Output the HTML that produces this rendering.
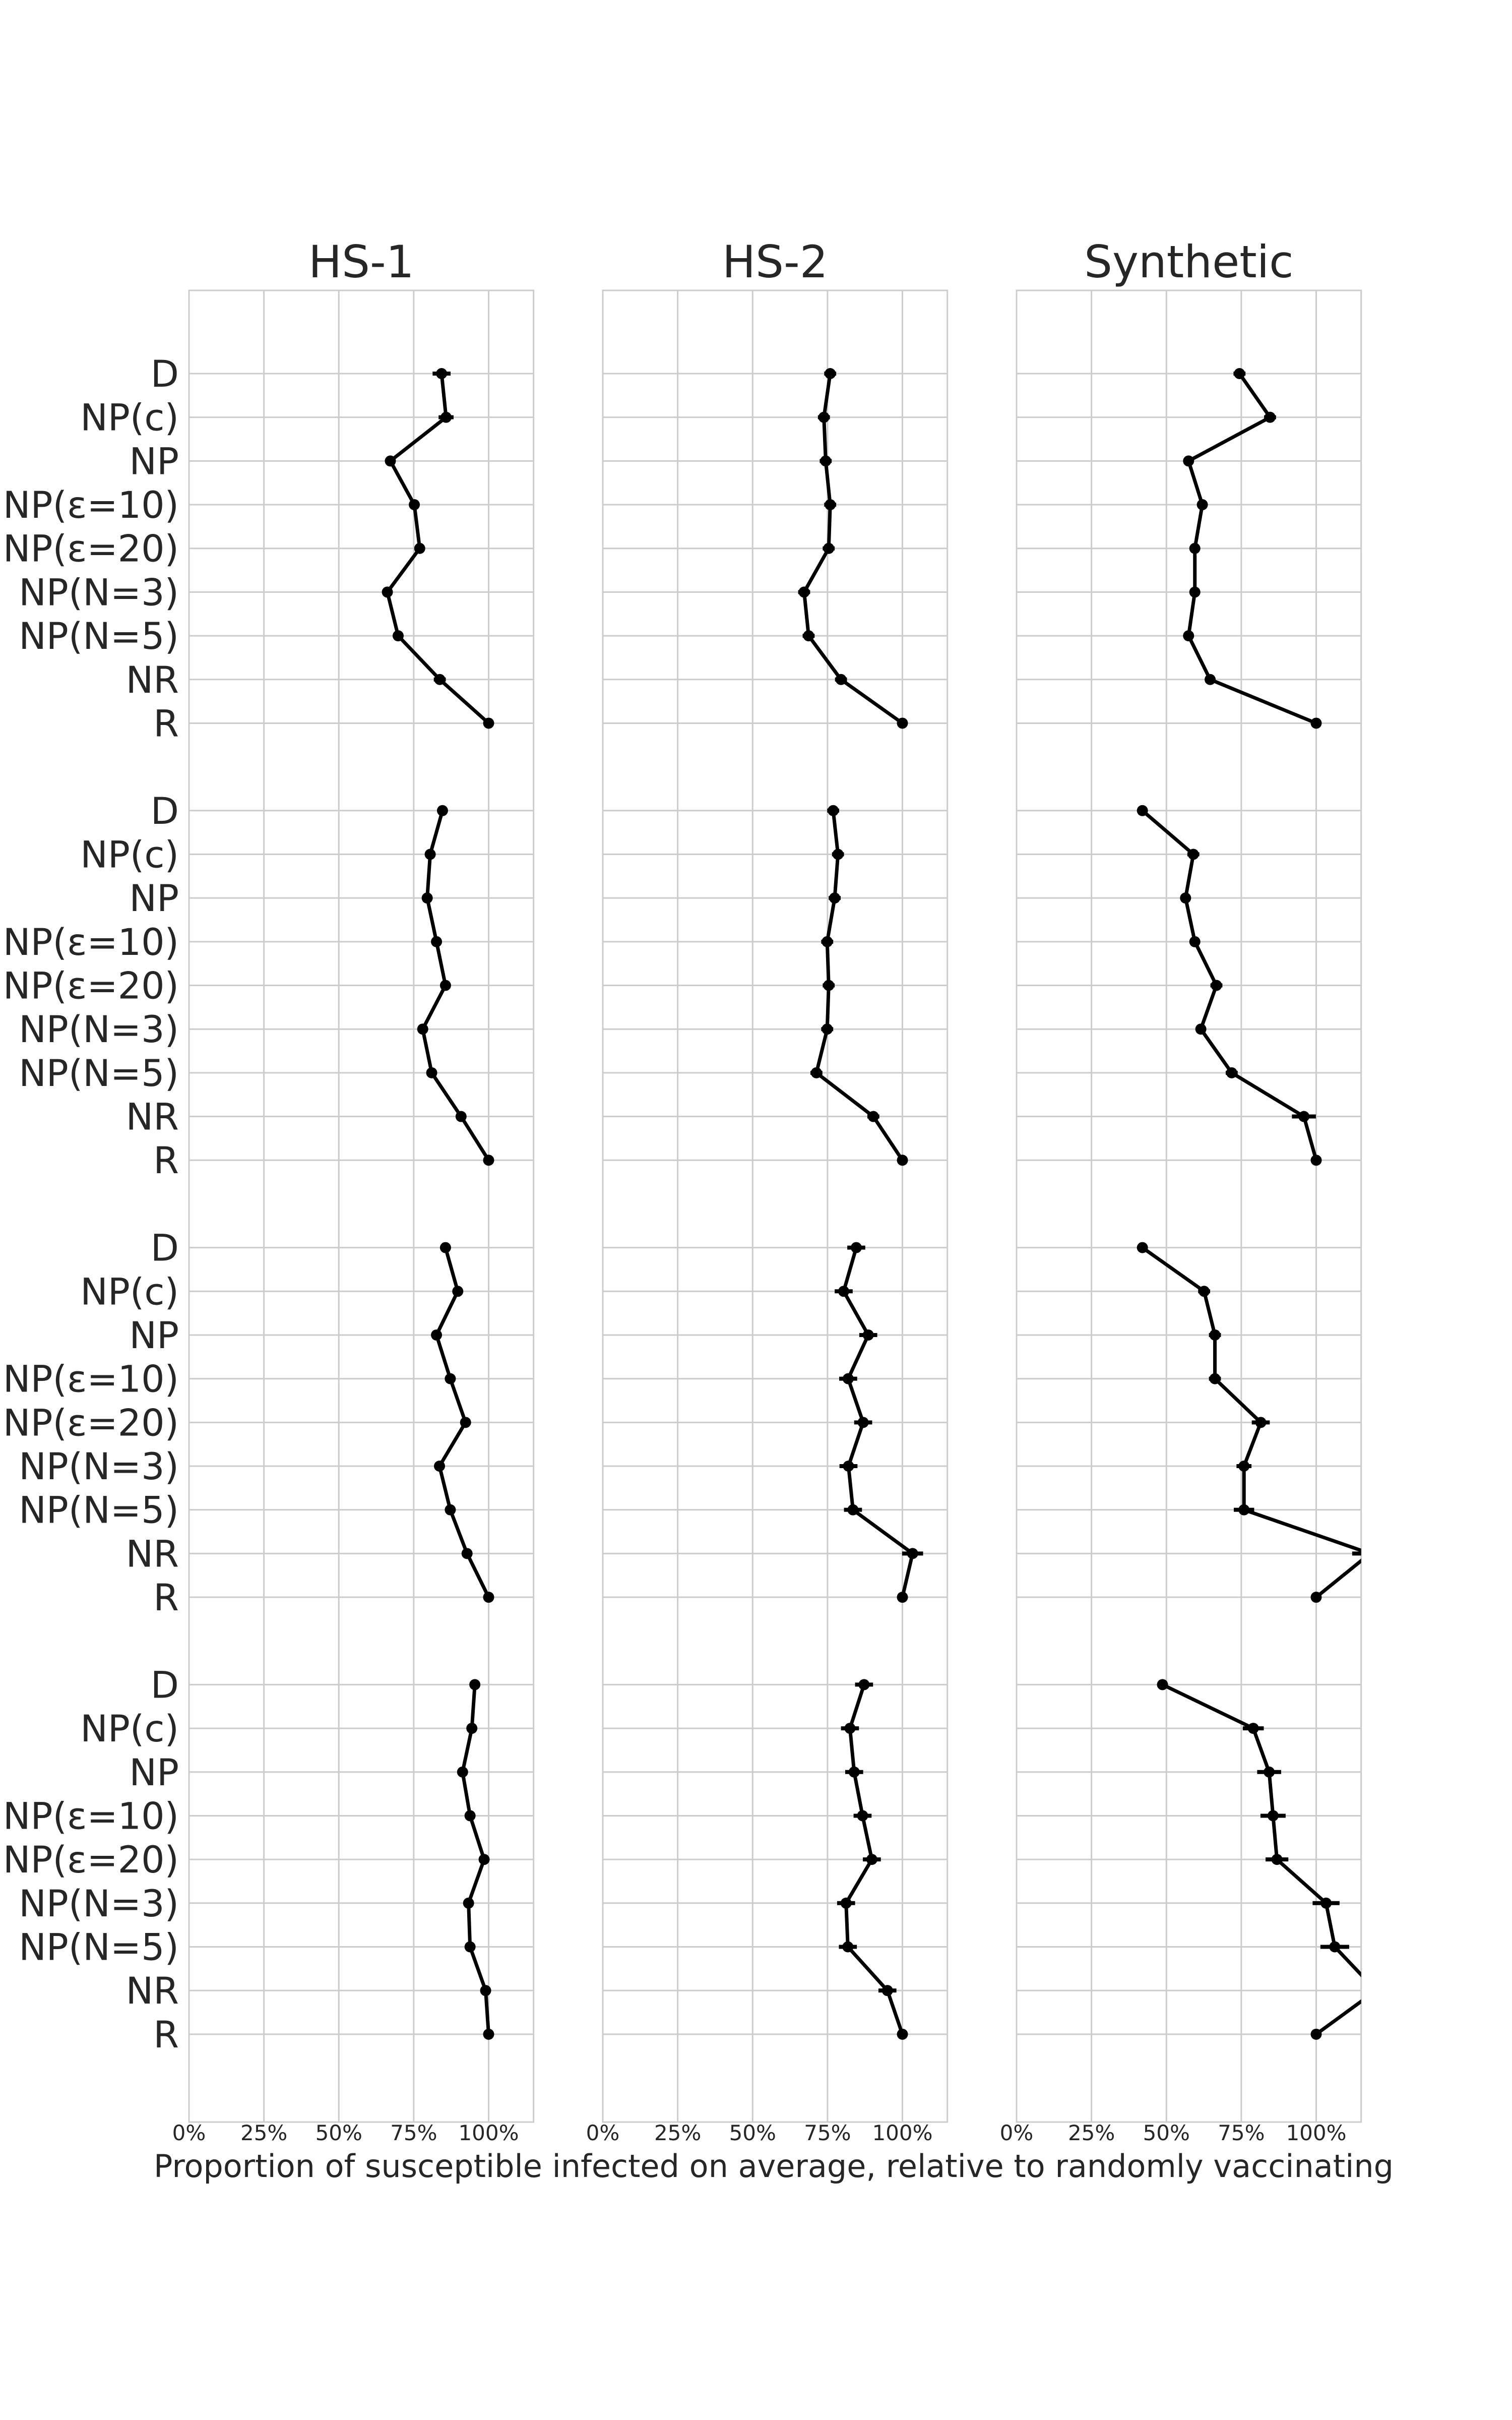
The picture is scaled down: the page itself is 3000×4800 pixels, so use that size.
<!DOCTYPE html>
<html><head><meta charset="utf-8"><style>
html,body{margin:0;padding:0;background:#fff;}
svg{display:block;font-family:"DejaVu Sans","Liberation Sans",sans-serif;}
</style></head>
<body>
<svg id="chart" width="3000" height="4800" viewBox="0 0 3000 4800" xmlns="http://www.w3.org/2000/svg">
<rect width="3000" height="4800" fill="#fff"/>
<text x="1535" y="4318" font-size="62" fill="#262626" text-anchor="middle">Proportion of susceptible infected on average, relative to randomly vaccinating</text>
</svg>
<script>
const panelTitles = ["HS-1", "HS-2", "Synthetic"];
const rowLabels = ["D", "NP(c)", "NP", "NP(\u03b5=10)", "NP(\u03b5=20)", "NP(N=3)", "NP(N=5)", "NR", "R"];
const tickValues = [0, 25, 50, 75, 100];
const tickLabels = ["0%", "25%", "50%", "75%", "100%"];
// values[panel][group][row] in percent
const hs1Values = [
  [84.3, 85.8, 67.2, 75.2, 77.0, 66.2, 69.8, 83.7, 100],
  [84.6, 80.5, 79.5, 82.6, 85.6, 78.0, 81.0, 90.8, 100],
  [85.6, 89.7, 82.6, 87.2, 92.3, 83.6, 87.2, 92.8, 100],
  [95.4, 94.4, 91.3, 93.8, 98.5, 93.3, 93.8, 99.0, 100]
];
const hs2Values = [
  [75.9, 73.8, 74.4, 75.9, 75.4, 67.2, 68.7, 79.5, 100],
  [76.9, 78.5, 77.4, 74.9, 75.4, 74.9, 71.3, 90.3, 100],
  [84.6, 80.4, 88.6, 81.9, 86.9, 82.0, 83.5, 103.4, 100],
  [87.2, 82.5, 83.9, 86.7, 89.8, 81.2, 81.8, 95.0, 100]
];
const synValues = [
  [74.4, 84.6, 57.4, 62.0, 59.5, 59.5, 57.4, 64.6, 100],
  [42.0, 59.0, 56.4, 59.5, 66.7, 61.5, 71.8, 95.9, 100],
  [42.0, 62.6, 66.2, 66.2, 81.5, 75.9, 75.9, 118.0, 100],
  [48.7, 79.0, 84.3, 85.6, 86.9, 103.3, 106.2, 120.0, 100]
];
const hs1Errors = [
  [3, 2.5, 1.5, 1.5, 1.5, 1.5, 1.5, 2, 0],
  [1.5, 1.5, 1.5, 1.5, 1.5, 1.5, 1.5, 1.5, 0],
  [1.5, 1.5, 1.5, 1.5, 1.5, 1.5, 1.5, 1.5, 0],
  [1.5, 1.5, 1.5, 1.5, 1.5, 1.5, 1.5, 1.5, 0]
];
const hs2Errors = [
  [2, 2, 2, 2, 2, 2, 2, 2, 0],
  [2, 2, 2, 2, 2, 2, 2, 2, 0],
  [3, 3, 3, 3, 3, 3, 3, 3.5, 0],
  [3, 3, 3, 3, 3, 3, 3, 3, 0]
];
const synErrors = [
  [2, 2, 1.5, 1.5, 1.5, 1.5, 1.5, 1.5, 0],
  [1, 2, 1.5, 1.5, 2, 1.5, 2, 4, 0],
  [1, 2, 2, 2, 3, 2.5, 3.4, 6, 0],
  [1, 3.5, 4, 4.2, 3.8, 4.5, 4.8, 4, 0]
];
const allValues = [hs1Values, hs2Values, synValues];
const allErrors = [hs1Errors, hs2Errors, synErrors];

const NS = "http://www.w3.org/2000/svg";
const svg = document.getElementById("chart");
const panelLeft = [375, 1196, 2017];
const pxPerPct = 5.945;
const axTop = 576, axBottom = 4209;
const firstRowY = 741, slotH = 86.68;
const xMaxPct = 115;
function xScale(p, v) { return panelLeft[p] + v * pxPerPct; }
function yScale(g, r) { return firstRowY + (g * 10 + r) * slotH; }
function mk(tag, attrs, parent) {
  const e = document.createElementNS(NS, tag);
  for (const k in attrs) e.setAttribute(k, attrs[k]);
  (parent || svg).appendChild(e);
  return e;
}
const defs = mk("defs", {});
for (let p = 0; p < 3; p++) {
  const L = panelLeft[p], R = L + xMaxPct * pxPerPct;
  const cp = mk("clipPath", { id: "clip" + p }, defs);
  mk("rect", { x: L, y: axTop, width: R - L, height: axBottom - axTop }, cp);
  const g = mk("g", {});
  
  
  tickValues.forEach((t, i) => {
    const x = xScale(p, t);
    const ln = mk("line", { x1: x, x2: x, y1: axTop, y2: axBottom, stroke: "#cccccc", "stroke-width": 3 }, g);
    
    
    const tl = mk("text", { x: x, y: 4245, "font-size": 42, fill: "#262626", "text-anchor": "middle" }, g);
    tl.textContent = tickLabels[i];
    
    
  });
  for (let gi = 0; gi < 4; gi++) {
    for (let r = 0; r < 9; r++) {
      const y = yScale(gi, r);
      const hl = mk("line", { x1: L, x2: R, y1: y, y2: y, stroke: "#cccccc", "stroke-width": 3 }, g);
      
      
      if (p === 0) {
        const yl = mk("text", { x: 355, y: y + 26, "font-size": 73, fill: "#262626", "text-anchor": "end" }, g);
        yl.textContent = rowLabels[r];
        
        
      }
    }
  }
  const frame = mk("rect", { x: L, y: axTop, width: R - L, height: axBottom - axTop, fill: "none", stroke: "#cccccc", "stroke-width": 3 }, g);
  
  
  const tt = mk("text", { x: (L + R) / 2, y: 550, "font-size": 88, fill: "#262626", "text-anchor": "middle" }, g);
  tt.textContent = panelTitles[p];
  
  
  const sg = mk("g", { "clip-path": "url(#clip" + p + ")" }, g);
  for (let gi = 0; gi < 4; gi++) {
    const vals = allValues[p][gi], errs = allErrors[p][gi];
    const pts = vals.map((v, r) => xScale(p, v) + "," + yScale(gi, r)).join(" ");
    const pl = mk("polyline", { points: pts, fill: "none", stroke: "#000", "stroke-width": 7, "stroke-linejoin": "round" }, sg);
    
    
    vals.forEach((v, r) => {
      const y = yScale(gi, r);
      if (errs[r] > 0) {
        const eb = mk("line", { x1: xScale(p, v - errs[r]), x2: xScale(p, v + errs[r]), y1: y, y2: y, stroke: "#000", "stroke-width": 8 }, sg);
        
        
      }
      const c = mk("circle", { cx: xScale(p, v), cy: y, r: 11, fill: "#000" }, sg);
      
      
    });
  }
}
</script>
</body></html>
